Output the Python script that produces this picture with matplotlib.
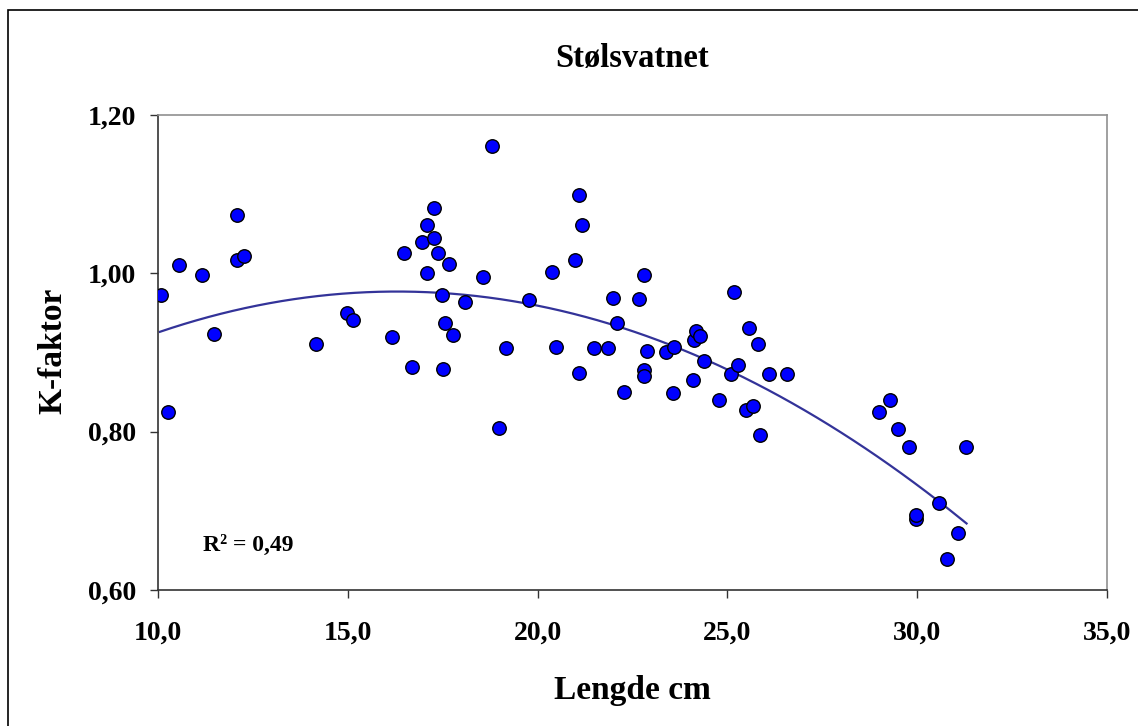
import numpy as np
import matplotlib
matplotlib.use('Agg')
import matplotlib.pyplot as plt
from matplotlib.patches import Rectangle
from matplotlib.ticker import FuncFormatter, MultipleLocator

# Lengde (cm) og K-faktor, lest av figuren
lengde = [10.08, 10.26, 10.55, 11.16, 11.48, 12.08, 12.08, 12.27, 14.16, 14.98,
          15.14, 16.17, 16.49, 16.69, 16.95, 17.09, 17.09, 17.27, 17.27, 17.38,
          17.48, 17.56, 17.51, 17.67, 17.77, 18.09, 18.56, 18.80, 18.98, 19.17,
          19.77, 20.38, 20.48, 20.98, 21.09, 21.17, 21.09, 21.48, 21.85, 21.99,
          22.09, 22.28, 22.67, 22.80, 22.80, 22.80, 22.88, 23.38, 23.57, 23.59,
          24.09, 24.12, 24.17, 24.28, 24.38, 24.78, 25.09, 25.17, 25.28, 25.57,
          25.49, 25.67, 25.81, 25.86, 26.10, 26.57, 28.99, 29.28, 29.49, 29.78,
          29.97, 29.97, 30.57, 30.78, 31.07, 31.28]
kfaktor = [0.973, 0.825, 1.011, 0.998, 0.923, 1.074, 1.017, 1.022, 0.911, 0.950,
           0.941, 0.920, 1.026, 0.882, 1.040, 1.061, 1.000, 1.083, 1.045, 1.026,
           0.973, 0.937, 0.879, 1.012, 0.922, 0.964, 0.995, 1.161, 0.805, 0.906,
           0.966, 1.002, 0.907, 1.017, 1.099, 1.061, 0.874, 0.906, 0.906, 0.969,
           0.937, 0.850, 0.968, 0.998, 0.878, 0.870, 0.902, 0.901, 0.849, 0.907,
           0.865, 0.916, 0.927, 0.921, 0.889, 0.840, 0.873, 0.976, 0.884, 0.931,
           0.827, 0.832, 0.911, 0.796, 0.873, 0.873, 0.825, 0.840, 0.803, 0.781,
           0.690, 0.695, 0.710, 0.639, 0.672, 0.781]

# polynomisk trendlinje (2. grad) slik Excel viser den: a*x^2 + b*x + c
trend_coef = [-0.001302, 0.042445, 0.63107]
trend_range = [10.05, 31.30]

title = 'Stølsvatnet'
xlabel = 'Lengde cm'
ylabel = 'K-faktor'
r2_label = 'R² = 0,49'

plt.rcParams['font.family'] = ['Liberation Serif', 'DejaVu Serif']
plt.rcParams['font.weight'] = 'bold'

W, H = 1138, 726
fig = plt.figure(figsize=(W / 100, H / 100), dpi=100)
fig.patch.set_facecolor('white')

# outer chart frame
fig.patches.append(Rectangle((8 / W, -0.02), 1.05, 1 - 10 / H + 0.02,
                             transform=fig.transFigure, fill=False,
                             edgecolor='black', linewidth=1.2))

ax = fig.add_axes([158 / W, (H - 590) / H, (1107 - 158) / W, (590 - 115) / H])

ax.scatter(lengde, kfaktor, s=13.5 ** 2 * 0.72 ** 2, c='#0000ff',
           edgecolors='black', linewidths=1.0, zorder=3)

xs = np.linspace(trend_range[0], trend_range[1], 200)
ax.plot(xs, np.polyval(trend_coef, xs), color='#333399', linewidth=1.6, zorder=2)

ax.set_xlim(10, 35)
ax.set_ylim(0.6, 1.2)
ax.xaxis.set_major_locator(MultipleLocator(5))
ax.yaxis.set_major_locator(MultipleLocator(0.2))
ax.xaxis.set_major_formatter(FuncFormatter(lambda v, p: f'{v:.1f}'.replace('.', ',')))
ax.yaxis.set_major_formatter(FuncFormatter(lambda v, p: f'{v:.2f}'.replace('.', ',')))

for side in ['left', 'bottom']:
    ax.spines[side].set_color('#333333')
    ax.spines[side].set_linewidth(1.2)
for side in ['top', 'right']:
    ax.spines[side].set_color('#909090')
    ax.spines[side].set_linewidth(1.2)

ax.tick_params(axis='both', direction='out', length=6, width=1.0,
               color='#333333', labelsize=20)
ax.tick_params(axis='x', pad=16)
ax.tick_params(axis='y', pad=10)
for lbl in ax.get_xticklabels() + ax.get_yticklabels():
    lbl.set_fontweight('bold')

ax.text((203 - 158) / 949, (590 - 545) / 475, r2_label, transform=ax.transAxes,
        fontsize=17, fontweight='bold', ha='left', va='center')

fig.text((158 + 1107) / 2 / W, 1 - 59 / H, title, ha='center', va='center',
         fontsize=23.5, fontweight='bold')
fig.text((158 + 1107) / 2 / W, 1 - 690 / H, xlabel, ha='center', va='center',
         fontsize=24, fontweight='bold')
fig.text(53 / W, 1 - 351 / H, ylabel, ha='center', va='center', rotation=90,
         fontsize=24, fontweight='bold')

fig.savefig('out.png', dpi=100, facecolor='white')
